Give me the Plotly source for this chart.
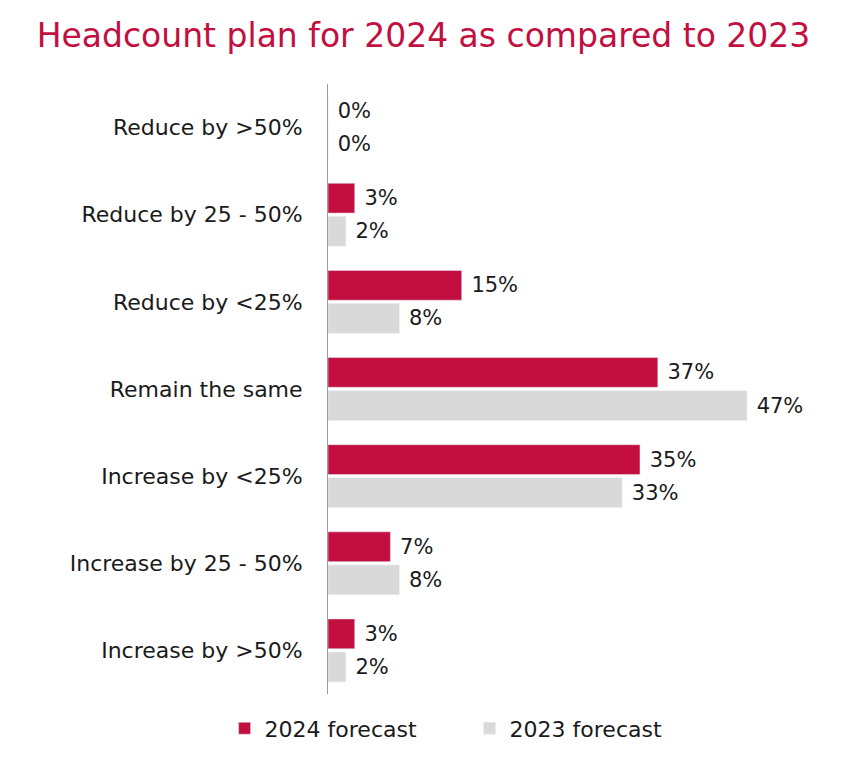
import plotly.graph_objects as go

categories = [
    "Reduce by >50%",
    "Reduce by 25 - 50%",
    "Reduce by <25%",
    "Remain the same",
    "Increase by <25%",
    "Increase by 25 - 50%",
    "Increase by >50%",
]
forecast_2024 = [0, 3, 15, 37, 35, 7, 3]
forecast_2023 = [0, 2, 8, 47, 33, 8, 2]

red = "#C20F3F"
grey = "#D9D9D9"
font_family = "DejaVu Sans, sans-serif"
pad = "\u00a0"  # little gap between bar end and label

fig = go.Figure()
fig.add_trace(
    go.Bar(
        y=categories,
        x=forecast_2024,
        orientation="h",
        name="2024 forecast",
        marker_color=red,
        text=[pad + "{}%".format(v) for v in forecast_2024],
        textposition="outside",
        textfont=dict(size=21, color="#1a1a1a"),
        cliponaxis=False,
    )
)
fig.add_trace(
    go.Bar(
        y=categories,
        x=forecast_2023,
        orientation="h",
        name="2023 forecast",
        marker_color=grey,
        text=[pad + "{}%".format(v) for v in forecast_2023],
        textposition="outside",
        textfont=dict(size=21, color="#1a1a1a"),
        cliponaxis=False,
    )
)

fig.update_layout(
    width=848,
    height=775,
    barmode="group",
    bargap=0.24,
    bargroupgap=0.1,
    plot_bgcolor="white",
    paper_bgcolor="white",
    font=dict(family=font_family, size=21, color="#1a1a1a"),
    title=dict(
        text="Headcount plan for 2024 as compared to 2023",
        font=dict(size=33, color=red),
        x=0.49,
        xanchor="center",
        y=0.965,
        yanchor="middle",
    ),
    margin=dict(l=320, r=11, t=76, b=89, autoexpand=False),
    showlegend=True,
    legend=dict(
        orientation="h",
        x=-0.2,
        xanchor="left",
        y=-0.022,
        yanchor="top",
        entrywidth=200,
        font=dict(size=22),
        traceorder="normal",
    ),
)
fig.update_xaxes(
    range=[0, 58],
    visible=False,
    showgrid=False,
    zeroline=False,
)
fig.update_yaxes(
    autorange="reversed",
    showgrid=False,
    showline=True,
    linecolor="#9a9a9a",
    linewidth=1,
    ticks="",
    ticklabelstandoff=20,
    tickfont=dict(size=22, color="#1a1a1a"),
)

fig.write_html("out.html")
